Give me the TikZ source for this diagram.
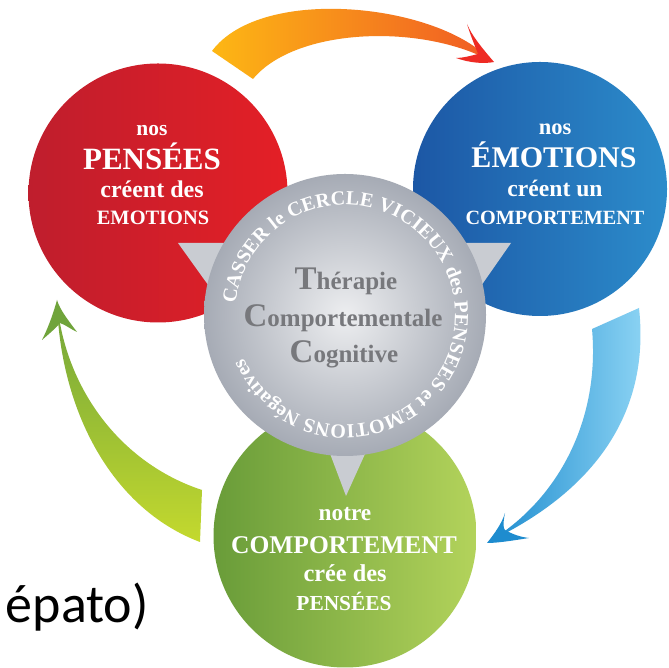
\documentclass[tikz,border=0pt]{standalone}
\usepackage{fontspec}
\setmainfont{Liberation Serif}
\newfontfamily\slidefont{Carlito}
\usetikzlibrary{decorations.text}
\newcommand\fsz[1]{\fontsize{#1}{#1}\selectfont}
\definecolor{redA}{HTML}{BF1E2D}
\definecolor{redB}{HTML}{E41F26}
\definecolor{bluA}{HTML}{1C57A5}
\definecolor{bluB}{HTML}{2C8CCB}
\definecolor{grnA}{HTML}{699C39}
\definecolor{grnB}{HTML}{B3D35B}
\definecolor{gryA}{HTML}{EDEEF0}
\definecolor{gryB}{HTML}{A6ABB5}
\definecolor{gryT}{HTML}{77787C}
\definecolor{orA}{HTML}{FDB714}
\definecolor{orB}{HTML}{F05A24}
\definecolor{orH}{HTML}{EE2B24}
\definecolor{lbA}{HTML}{1E8CCF}
\definecolor{lbB}{HTML}{90D6F5}
\definecolor{lgA}{HTML}{70A43B}
\definecolor{lgB}{HTML}{C4D92E}
\begin{document}
\begin{tikzpicture}[x=1pt, y=1pt,
    main/.style={circle, inner sep=0pt, minimum size=#1},
    txt/.style={text=white, font=\bfseries, anchor=base, inner sep=0pt},
    mid/.style={text=gryT, font=\bfseries, anchor=base, inner sep=0pt},
    tail/.style={fill=gryB!50!gryA}]
  \useasboundingbox (0,0) rectangle (668,668);
  \fill[white] (0,0) rectangle (668,668);

  % the three bubbles
  \node[main=259pt, left color=redA, right color=redB] (1) at (158,475) {};
  \node[main=254pt, left color=bluA, right color=bluB] (2) at (540,479) {};
  \node[main=263pt, left color=grnA, right color=grnB] (3) at (345,132) {};

  % arrows between them
  \coordinate (o1) at (212,617);
  \coordinate (o2) at (253,589);
  \coordinate (t1) at (491,607);
  \coordinate (b1) at (639,360);
  \coordinate (b2) at (592,339);
  \coordinate (t2) at (490,127);
  \coordinate (g1) at (200,126);
  \coordinate (g2) at (202,178);
  \coordinate (t3) at (57,366);

  \shade[left color=orA, right color=orB] (o1) .. controls (262,684) and (440,664) .. (t1)
    .. controls (420,645) and (295,640) .. (o2) -- cycle;
  \fill[orH] (494,606) .. controls (482,620) and (472,632) .. (467,644)
    .. controls (472,628) and (476,620) .. (478,614)
    .. controls (470,612) and (463,610) .. (456,610)
    .. controls (470,605) and (484,604) .. (494,606) -- cycle;

  \shade[left color=lbA, right color=lbB] (b1) .. controls (650,260) and (600,180) .. (t2)
    .. controls (560,170) and (600,250) .. (b2) -- cycle;
  \fill[lbA] (487,125) .. controls (495,135) and (502,145) .. (505,155)
    .. controls (503,145) and (503,140) .. (505,138)
    .. controls (512,134) and (520,131) .. (529,130)
    .. controls (510,127) and (497,125) .. (487,125) -- cycle;

  \shade[top color=lgA, bottom color=lgB] (g1) .. controls (110,160) and (60,260) .. (t3)
    .. controls (65,280) and (120,205) .. (g2) -- cycle;
  \fill[lgA] (57,368) .. controls (52,350) and (47,338) .. (42,328)
    .. controls (50,335) and (56,340) .. (60,345)
    .. controls (66,343) and (72,338) .. (77,336)
    .. controls (68,348) and (60,358) .. (57,368) -- cycle;

  % centre disc with its pointers
  \fill[tail] (178,425) -- (245,425) -- (216,372) -- cycle;
  \fill[tail] (511,425) -- (445,425) -- (474,372) -- cycle;
  \fill[tail] (346,172) -- (326,225) -- (370,225) -- cycle;
  \node[main=282pt, inner color=gryA, outer color=gryB] (4) at (345,353) {};

  \path[decorate, decoration={text along path, text align=fit to path, text color=white,
      text={|\bfseries\fsz{20}|CASSER le CERCLE VICIEUX des PENSEES et EMOTIONS N{é}gatives}}]
    (4.center) ++(174:110) arc[start angle=174, end angle=-157, radius=110];

  \node[mid] (4a) at (346,378) {\fsz{33}T\fsz{25}hérapie};
  \node[mid] (4b) at (343,341) {\fsz{33}C\fsz{25}omportementale};
  \node[mid] (4c) at (344,305) {\fsz{33}C\fsz{25}ognitive};

  % bubble texts
  \node[txt] (1a) at (152,532) {\fsz{21.5}nos};
  \node[txt] (1b) at (152,498) {\fsz{31}PENSÉES};
  \node[txt] (1c) at (152,470) {\fsz{24}créent des};
  \node[txt] (1d) at (153,443) {\fsz{20.4}EMOTIONS};

  \node[txt] (2a) at (555,533) {\fsz{22.5}nos};
  \node[txt] (2b) at (554,500) {\fsz{30}ÉMOTIONS};
  \node[txt] (2c) at (555,471) {\fsz{23.6}créent un};
  \node[txt] (2d) at (555,443) {\fsz{20.2}COMPORTEMENT};

  \node[txt] (3a) at (345,147) {\fsz{23.3}notre};
  \node[txt] (3b) at (344,114) {\fsz{25.5}COMPORTEMENT};
  \node[txt] (3c) at (345,86) {\fsz{24.3}crée des};
  \node[txt] (3d) at (344,57) {\fsz{21.4}PENSÉES};

  \node[anchor=base east, inner sep=0pt, font=\slidefont\fsz{54}] (5) at (149,45) {épato)};
\end{tikzpicture}
\end{document}
